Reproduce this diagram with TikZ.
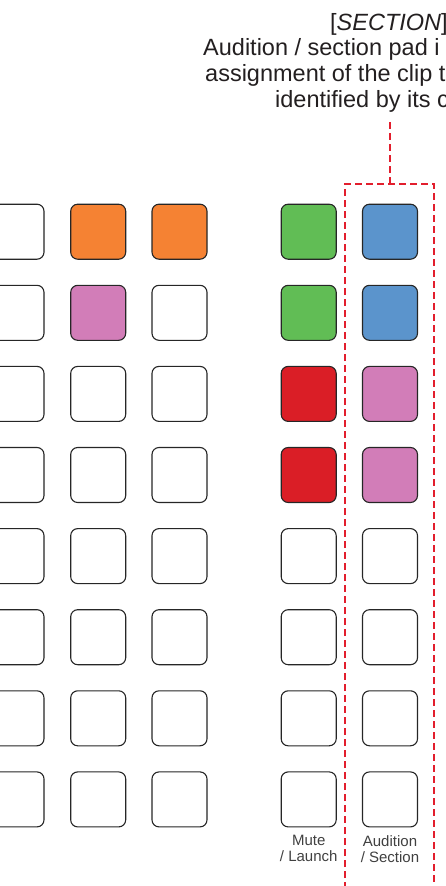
\documentclass[tikz,border=0pt]{standalone}
\usepackage{fontspec}
\setmainfont{Liberation Sans}
\usepackage{tikz}
\usepackage{xcolor}
\usetikzlibrary{positioning, calc}
\definecolor{cOrange}{RGB}{245,130,51}
\definecolor{cPink}{RGB}{210,125,184}
\definecolor{cGreen}{RGB}{97,189,85}
\definecolor{cBlue}{RGB}{91,148,204}
\definecolor{cRed}{RGB}{218,30,38}
\definecolor{cDash}{RGB}{226,30,45}
\definecolor{cText}{RGB}{35,31,32}
\tikzset{
	pad/.style    ={rectangle, rounded corners=7pt, minimum size=55pt, inner sep=0pt, draw=black!85, line width=1.1pt, fill=white},
	note/.style   ={anchor=base west, inner sep=0pt, text=cText, font=\fontsize{23.5}{25}\selectfont},
	padlbl/.style ={align=center, inner sep=0pt, text=black!75, font=\fontsize{15}{15.5}\selectfont},
	secline/.style={draw=cDash, line width=1.8pt, dash pattern=on 7pt off 4pt},
	% pad colours, by column and row
	c21/.style={fill=cOrange}, c22/.style={fill=cPink},
	c31/.style={fill=cOrange},
	c41/.style={fill=cGreen}, c42/.style={fill=cGreen}, c43/.style={fill=cRed}, c44/.style={fill=cRed},
	c51/.style={fill=cBlue}, c52/.style={fill=cBlue}, c53/.style={fill=cPink}, c54/.style={fill=cPink},
}
\begin{document}
\begin{tikzpicture}[x=1pt, y=-1pt]
	\useasboundingbox (0,0) rectangle (446,886);
	\clip (0,0) rectangle (446,886);
	% pad grid
	\foreach \col/\xx in {1/16.5, 2/98.2, 3/179.5, 4/308.7, 5/390}
		\foreach \row in {1,...,8}
			\node[pad, c\col\row/.try] (p\col\row) at (\xx, {231.7+81.1*(\row-1)}) {};
	\node[padlbl, below=8pt of p48] (mute) {Mute\\/ Launch};
	\node[padlbl, below=8pt of p58] (aud) {Audition\\/ Section};
	% section callout
	\node[note] (t1) at (330,30) {[\textit{SECTION}]};
	\node[note] (t2) at (203,55.5) {Audition / section pad i};
	\node[note] (t3) at (205,81) {assignment of the clip t};
	\node[note] (t4) at (275,107) {identified by its c};
	\coordinate (secIn) at (390,122);
	\coordinate (secTop) at (390,184);
	\coordinate (secL) at (345,900);
	\coordinate (secR) at (434,900);
	\draw[secline] (secIn) -- (secTop);
	\draw[secline] (secL) |- (secTop) -| (secR);
\end{tikzpicture}
\end{document}
